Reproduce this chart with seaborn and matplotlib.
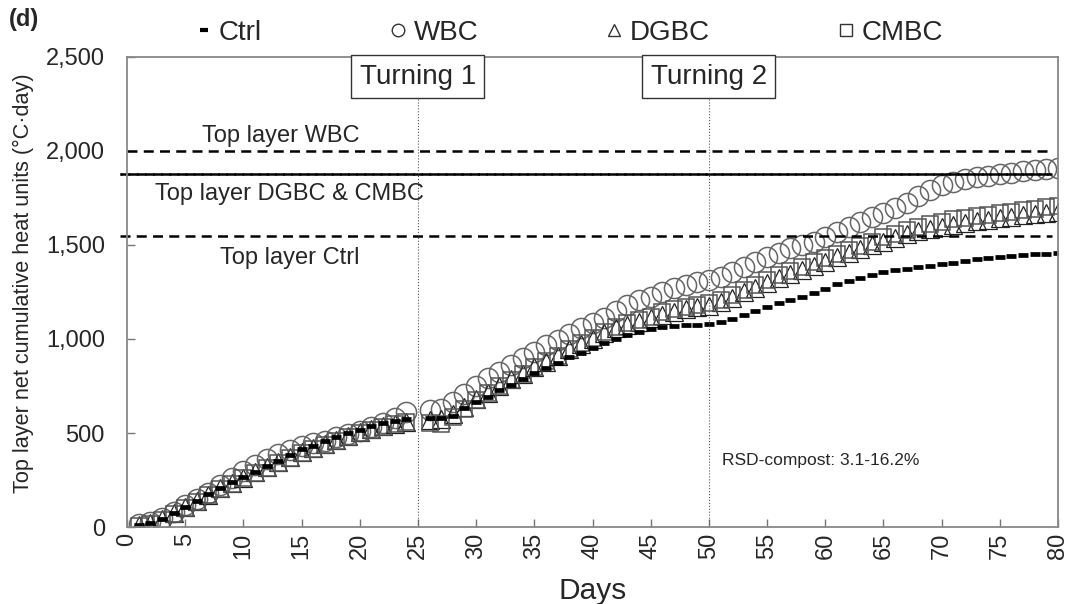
import matplotlib
matplotlib.use("Agg")
import matplotlib.pyplot as plt
import matplotlib.ticker as mticker
from matplotlib.lines import Line2D
import seaborn as sns
import pandas as pd

# ---------------- data ----------------
days = list(range(1, 25)) + list(range(26, 81))

wbc = [15, 28, 48, 80, 115, 150, 180, 222, 262, 298, 330, 362, 390, 412, 430, 445, 460, 477, 494, 512,
       532, 555, 580, 612,
       620, 628, 665, 710, 750, 791, 826, 862, 897, 932, 968, 995, 1025, 1057, 1083, 1110, 1150,
       1180, 1205, 1225, 1250, 1270, 1287, 1305, 1314, 1331, 1358, 1384, 1411, 1438, 1460,
       1482, 1500, 1518, 1544, 1571, 1598, 1624, 1651, 1669, 1695, 1722, 1760, 1793, 1819,
       1837, 1850, 1860, 1867, 1876, 1885, 1895, 1900, 1905, 1912]

dgbc = [8, 20, 42, 72, 105, 138, 172, 205, 235, 262, 290, 318, 345, 372, 400, 420, 442, 463, 483, 503,
        522, 538, 550, 560,
        570, 575, 600, 640, 680, 715, 750, 785, 815, 850, 880, 910, 945, 975, 1000, 1030, 1060,
        1075, 1092, 1110, 1130, 1145, 1158, 1168, 1178, 1195, 1220, 1248, 1272, 1298, 1322,
        1345, 1368, 1390, 1412, 1434, 1455, 1477, 1498, 1518, 1538, 1556, 1572, 1586, 1598,
        1608, 1617, 1626, 1634, 1642, 1650, 1657, 1664, 1670, 1675]

cmbc = [5, 15, 38, 68, 100, 133, 168, 200, 230, 258, 285, 312, 340, 368, 395, 415, 437, 458, 478, 498,
        518, 534, 546, 556,
        552, 548, 585, 630, 675, 712, 748, 782, 815, 852, 882, 912, 946, 978, 1005, 1035, 1065,
        1083, 1101, 1119, 1145, 1158, 1172, 1181, 1190, 1210, 1235, 1262, 1288, 1312, 1338,
        1362, 1385, 1408, 1430, 1452, 1474, 1496, 1518, 1540, 1560, 1580, 1596, 1612, 1625,
        1636, 1645, 1654, 1662, 1670, 1678, 1686, 1694, 1702, 1708]

ctrl = [10, 20, 45, 73, 105, 138, 175, 210, 240, 268, 295, 325, 352, 385, 415, 430, 455, 478, 498, 518,
        538, 553, 562, 574,
        578, 580, 590, 631, 667, 693, 729, 755, 786, 818, 844, 874, 906, 927, 954, 977, 1000,
        1021, 1039, 1051, 1062, 1069, 1073, 1074, 1078, 1092, 1105, 1128, 1151, 1169, 1190,
        1207, 1225, 1245, 1265, 1290, 1310, 1322, 1340, 1355, 1365, 1374, 1381, 1388, 1399,
        1406, 1415, 1426, 1432, 1438, 1441, 1447, 1450, 1454, 1459]

ref_labels = ["Top layer WBC", "Top layer DGBC & CMBC", "Top layer Ctrl"]
ref_values = [2000, 1880, 1550]
turn_labels = ["Turning 1", "Turning 2"]
turn_days = [25, 50]
x_ticks = list(range(0, 81, 5))
y_ticks = [0, 500, 1000, 1500, 2000, 2500]

# ---------------- style ----------------
sns.set_theme(style="white")
plt.rcParams["font.family"] = ["Liberation Sans", "DejaVu Sans"]

fig = plt.figure(figsize=(10.73, 6.04), dpi=100)
ax = fig.add_axes([127 / 1073, 1 - 527 / 604, (1058 - 127) / 1073, (527 - 57) / 604])

df = pd.DataFrame({"day": days, "WBC": wbc, "DGBC": dgbc, "CMBC": cmbc, "Ctrl": ctrl})

common = dict(ax=ax, linestyle="", sort=False, estimator=None, legend=False)
sns.lineplot(data=df, x="day", y="WBC", marker="o", markersize=14.5, markerfacecolor="none",
             markeredgecolor="#666666", markeredgewidth=1.1, color="#666666", **common)
sns.lineplot(data=df, x="day", y="DGBC", marker="^", markersize=12.5, markerfacecolor="none",
             markeredgecolor="#222222", markeredgewidth=0.9, color="#222222", **common)
sns.lineplot(data=df, x="day", y="CMBC", marker="s", markersize=12, markerfacecolor="none",
             markeredgecolor="#555555", markeredgewidth=1.1, color="#555555", **common)
sns.lineplot(data=df, x="day", y="Ctrl", marker="_", markersize=7.5, markerfacecolor="black",
             markeredgecolor="black", markeredgewidth=3.4, color="black", **common)

# reference horizontal lines
ax.plot([0, 79.5], [ref_values[0]] * 2, color="black", lw=1.8, ls=(0, (4, 2.5)), clip_on=False)
ax.plot([-0.6, 79.5], [ref_values[1]] * 2, color="black", lw=1.8, ls=(0, (4, 2.5)), clip_on=False)
ax.plot([-0.6, 79.5], [ref_values[1]] * 2, color="black", lw=1.8, ls=(3.2, (4, 2.5)), clip_on=False)
ax.plot([-0.6, 79.5], [ref_values[2]] * 2, color="black", lw=1.8, ls=(0, (4, 2.5)), clip_on=False)

ax.text(13.2, 2020, ref_labels[0], fontsize=17, ha="center", va="bottom")
ax.text(14.0, 1770, ref_labels[1], fontsize=17, ha="center", va="center")
ax.text(14.0, 1430, ref_labels[2], fontsize=17, ha="center", va="center")

# turning markers
for d, lab in zip(turn_days, turn_labels):
    ax.plot([d, d], [0, 2290], color="#555555", lw=0.8, ls=":")
    ax.text(d, 2395, lab, fontsize=20, ha="center", va="center",
            bbox=dict(boxstyle="square,pad=0.3", facecolor="white", edgecolor="#333333", lw=1.0))

ax.text(51.1, 356, "RSD-compost: 3.1-16.2%", fontsize=12.5, ha="left", va="center")

# axes
ax.set_xlim(0, 80)
ax.set_ylim(0, 2500)
ax.set_xticks(x_ticks)
ax.set_yticks(y_ticks)
ax.yaxis.set_major_formatter(mticker.FuncFormatter(lambda v, p: f"{v:,.0f}"))
ax.tick_params(axis="x", direction="in", length=6, width=1, color="#777777", labelsize=17,
               labelrotation=90, pad=4)
ax.tick_params(axis="y", direction="in", length=6, width=1, color="#777777", labelsize=17, pad=16)
ax.tick_params(left=True, bottom=True)
for s in ax.spines.values():
    s.set_color("#888888")
    s.set_linewidth(1.3)

ax.set_xlabel("Days", fontsize=21.5)
ax.xaxis.set_label_coords(0.5, -0.106)
ax.set_ylabel("Top layer net cumulative heat units (°C·day)", fontsize=15.6)
ax.yaxis.set_label_coords(-0.1, 0.518)

# legend
handles = [
    Line2D([], [], ls="", marker="_", ms=6, mew=3, color="black"),
    Line2D([], [], ls="", marker="o", ms=9, mfc="none", mec="#333333", mew=1),
    Line2D([], [], ls="", marker="^", ms=9, mfc="none", mec="#333333", mew=1),
    Line2D([], [], ls="", marker="s", ms=9, mfc="none", mec="#333333", mew=1),
]
fig.legend(handles, ["Ctrl", "WBC", "DGBC", "CMBC"], loc="center", bbox_to_anchor=(0.529, 0.945),
           ncol=4, frameon=False, fontsize=20, handlelength=0.8, handletextpad=0.15,
           columnspacing=4.5, borderpad=0.2)

fig.text(0.008, 0.967, "(d)", fontsize=17, fontweight="bold", ha="left", va="center")

fig.savefig("out.png", dpi=100)
